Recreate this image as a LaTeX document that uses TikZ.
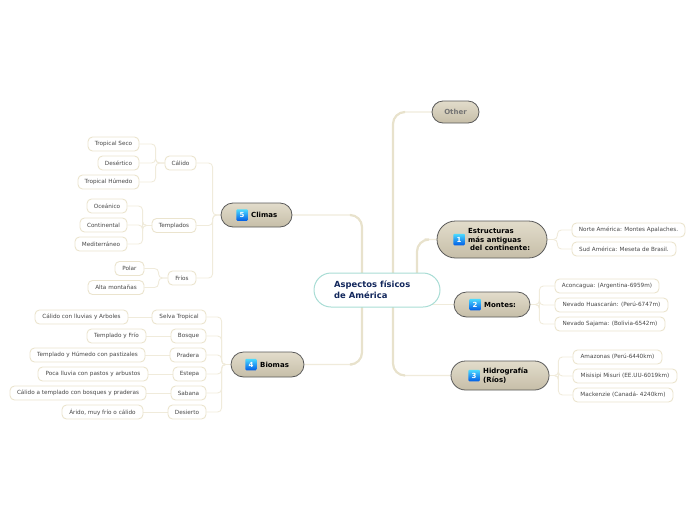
\documentclass[tikz,border=0pt]{standalone}
\usepackage{fontspec}
\setmainfont{DejaVu Sans}
\usetikzlibrary{positioning,backgrounds,shapes.misc}
\definecolor{twigc}{HTML}{F0EBDB}
\definecolor{trunkc}{HTML}{E8E2CC}
\definecolor{leafc}{HTML}{EBE4CE}
\definecolor{rootc}{HTML}{A9DDD5}
\definecolor{navyc}{HTML}{12275C}
\definecolor{topichi}{HTML}{E2DCCB}
\definecolor{topiclo}{HTML}{C6BEA8}
\tikzset{
  leaf/.style={draw=leafc,line width=0.9pt,fill=white,rounded corners=4.5pt,inner sep=0pt,minimum height=14pt,text=black!72,font=\fontsize{5.7}{7}\selectfont},
  topic/.style={rounded rectangle,draw=black!65,line width=0.8pt,top color=topichi,bottom color=topiclo,inner sep=0pt},
  toplabel/.style={inner sep=0pt,align=left,font=\fontsize{7}{8.6}\selectfont\bfseries},
  badge/.style={rounded corners=1pt,top color=blue!20!cyan!70!white,bottom color=blue!60!cyan!90!black,text=white,minimum size=11.5pt,inner sep=0pt,font=\fontsize{7}{8}\selectfont\bfseries},
  twig/.style={draw=twigc,line width=0.9pt,rounded corners=4pt},
  trunk/.style={draw=twigc,line width=1.1pt,rounded corners=12pt},
  trunkfat/.style={draw=trunkc,line width=2.2pt,rounded corners=12pt}
}
\begin{document}
\begin{tikzpicture}[x=1pt,y=-1pt]
  \useasboundingbox (0,0) rectangle (696,520);
  % centre
  \node[rounded rectangle,draw=rootc,line width=1pt,fill=white,minimum width=126pt,minimum height=34pt,inner sep=0pt] (root) at (377,290) {};
  \node[inner sep=0pt,align=left,anchor=west,text=navyc,font=\fontsize{8.4}{11}\selectfont\bfseries] (roottext) at (334,290) {Aspectos físicos\\de América};
  \coordinate (hubl) at (362,290);
  \coordinate (hubm) at (393,290);
  \coordinate (hubr) at (417,290);
  % topics
  \node[topic,minimum width=47pt,minimum height=22pt] (other) at (455.5,112) {};
  \node[toplabel,text=black!55] (othertext) at (455.5,112) {Other};
  \node[topic,minimum width=110pt,minimum height=37pt] (estruct) at (492,239.5) {};
  \node[toplabel,anchor=west] (estructtext) at (468,239.5) {Estructuras\\más antiguas\\\hspace{2pt}del continente:};
  \node[badge,left=3pt of estructtext] (estructnum) {1};
  \node[topic,minimum width=76pt,minimum height=25pt] (montes) at (492,304.5) {};
  \node[toplabel,anchor=west] (montestext) at (484,304.5) {Montes:};
  \node[badge,left=3pt of montestext] (montesnum) {2};
  \node[topic,minimum width=98pt,minimum height=29pt] (hidro) at (500,375.5) {};
  \node[toplabel,anchor=west] (hidrotext) at (483,375.5) {Hidrografía\\(Ríos)};
  \node[badge,left=3pt of hidrotext] (hidronum) {3};
  \node[topic,minimum width=73pt,minimum height=25pt] (biomas) at (267.5,364.5) {};
  \node[toplabel,anchor=west] (biomastext) at (260,364.5) {Biomas};
  \node[badge,left=3pt of biomastext] (biomasnum) {4};
  \node[topic,minimum width=71pt,minimum height=24pt] (climas) at (256.5,215) {};
  \node[toplabel,anchor=west] (climastext) at (251,215) {Climas};
  \node[badge,left=3pt of climastext] (climasnum) {5};
  % leaves
  \foreach \nm/\x/\y/\w/\txt in {
      norte/628.5/230/113/Norte América: Montes Apalaches.,
      sud/624/249/104/Sud América: Meseta de Brasil.,
      acon/607/286/104/Aconcagua: (Argentina-6959m),
      huas/611.5/305/113/Nevado Huascarán: (Perú-6747m),
      saja/610/324/110/Nevado Sajama: (Bolivia-6542m),
      amaz/617.5/357/89/Amazonas (Perú-6440km),
      misi/625/376/104/Misisipi Misuri (EE.UU-6019km),
      mack/623/395/100/Mackenzie (Canadá- 4240km),
      calido/180.5/163/31/Cálido,
      tseco/113.5/144/51/Tropical Seco,
      desert/118.5/163/41/Desértico,
      thumedo/108.5/182/61/Tropical Húmedo,
      templ/174/225.5/44/Templados,
      ocean/107/206/40/Oceánico,
      conti/103.5/225/47/Continental,
      medit/101/244/52/Mediterráneo,
      frios/182/278/28/Fríos,
      polar/129.5/268.5/29/Polar,
      alta/116/287.5/56/Alta montañas,
      selva/179/317/54/Selva Tropical,
      bosque/188.5/336/35/Bosque,
      prad/188/355/36/Pradera,
      estepa/189.5/374/33/Estepa,
      sabana/188.5/393/35/Sabana,
      desi/187/412/38/Desierto,
      dselva/81.5/317/93/Cálido con lluvias y Arboles,
      dbosque/116.5/336/59/Templado y Frío,
      dprad/87.5/355/115/Templado y Húmedo con pastizales,
      destepa/93/374/110/Poca lluvia con pastos y arbustos,
      dsabana/78/393/136/Cálido a templado con bosques y praderas,
      ddesi/102.5/412/81/{Árido, muy frío o cálido}} {
    \node[leaf,minimum width=\w pt] (\nm) at (\x,\y) {\txt};
  }
  \begin{scope}[on background layer]
    % main branches
    \draw[trunk] (climas.east) -| (hubl);
    \draw[trunkfat,shorten >=58pt] (hubl) |- (climas.east);
    \draw[trunk] (biomas.east) -| (hubl);
    \draw[trunkfat,shorten >=48pt] (hubl) |- (biomas.east);
    \draw[trunk] (other.west) -| (hubm);
    \draw[trunkfat,shorten >=27pt] (hubm) |- (other.west);
    \draw[trunk] (hidro.west) -| (hubm);
    \draw[trunkfat,shorten >=46pt] (hubm) |- (hidro.west);
    \draw[trunk] (estruct.west) -| (hubr);
    \draw[trunkfat,shorten >=12pt] (hubr) |- (estruct.west);
    \draw[trunk] (montes.west) -- (montes.west -| root);
    % side branches
    \foreach \kid in {calido,templ,frios} \draw[twig] (climas.west) -- ++(-8,0) |- (\kid.east);
    \foreach \kid in {selva,bosque,prad,estepa,sabana,desi} \draw[twig] (biomas.west) -- ++(-9,0) |- (\kid.east);
    \foreach \kid in {tseco,desert,thumedo} \draw[twig] (calido.west) -- ++(-9,0) |- (\kid.east);
    \foreach \kid in {ocean,conti,medit} \draw[twig] (templ.west) -- ++(-9,0) |- (\kid.east);
    \foreach \kid in {polar,alta} \draw[twig] (frios.west) -- ++(-9,0) |- (\kid.east);
    \foreach \kid in {norte,sud} \draw[twig] (estruct.east) -- ++(10,0) |- (\kid.west);
    \foreach \kid in {acon,huas,saja} \draw[twig] (montes.east) -- ++(9,0) |- (\kid.west);
    \foreach \kid in {amaz,misi,mack} \draw[twig] (hidro.east) -- ++(9,0) |- (\kid.west);
    \draw[twig] (selva.west) -- (dselva.east);
    \draw[twig] (bosque.west) -- (dbosque.east);
    \draw[twig] (prad.west) -- (dprad.east);
    \draw[twig] (estepa.west) -- (destepa.east);
    \draw[twig] (sabana.west) -- (dsabana.east);
    \draw[twig] (desi.west) -- (ddesi.east);
  \end{scope}
\end{tikzpicture}
\end{document}
